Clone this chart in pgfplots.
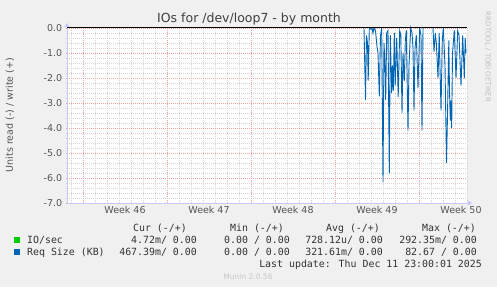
\documentclass[border=0pt]{standalone}
\usepackage{pgfplots}
\pgfplotsset{compat=1.18}
\usepackage{fontspec}
\setmainfont{DejaVu Sans}
\newfontfamily\mono{DejaVu Sans Mono}
\usetikzlibrary{arrows.meta}
\definecolor{bg}{HTML}{F0F0F0}
\definecolor{munblue}{HTML}{0066B3}
\definecolor{mungreen}{HTML}{00CC00}
\definecolor{axblue}{HTML}{C8C8FF}
\definecolor{majgrid}{HTML}{F0A0A0}
\definecolor{mingrid}{HTML}{D4D4D4}
\definecolor{txt}{HTML}{555555}
\pgfplotstableread{
d v
24.75 0
24.875 -2.88
24.958 -0.3
25.042 -0.6
25.1 -2.1
25.192 0
25.333 -0.05
25.417 0
25.5 -0.2
25.583 0
25.708 -0.1
25.833 -0.75
25.917 -1.0
26.025 -2.73
26.125 -0.3
26.225 0
26.333 -6.15
26.417 -0.6
26.5 -1.4
26.558 -2.87
26.642 -0.2
26.75 -0.1
26.858 -5.8
26.942 -0.3
27.058 -2.6
27.125 -1.5
27.192 -2.5
27.275 -0.2
27.35 -2.3
27.475 -0.4
27.6 -2.75
27.725 -0.1
27.817 -0.3
27.917 -3.4
28.0 -1.0
28.108 -2.1
28.192 -0.5
28.275 -0.1
28.417 -4.1
28.5 -1.5
28.642 0
28.75 -0.2
28.833 -0.8
28.917 -3.3
29.0 -0.8
29.108 -0.3
29.25 -2.4
29.392 0
29.5 -0.3
29.583 -4.1
29.667 0
29.9 nan
30.5 0
30.583 -0.95
30.692 -0.2
30.775 -0.6
30.875 -1.6
30.917 -2.0
31.017 -0.2
31.167 -3.3
31.275 -0.5
31.358 0
31.5 -1.5
31.625 -5.4
31.708 -3.5
31.817 -0.5
31.875 -2.5
31.942 -3.7
32.0 -2.9
32.058 -4.0
32.125 -1.0
32.275 -0.1
32.417 -2.0
32.558 -0.1
32.667 -0.3
32.833 -2.3
32.975 -0.3
33.108 -2.0
33.183 -0.4
33.25 -1.0
}\reqsize
\begin{document}
\begin{tikzpicture}[x=1pt,y=1pt]
\fill[bg] (0,0) rectangle (497,287);
\begin{axis}[
  at={(67pt,84pt)}, anchor=south west, scale only axis,
  width=400pt, height=175pt,
  xmin=0, xmax=33.3333, ymin=-7, ymax=0,
  clip=false,
  axis background/.style={fill=white},
  axis x line=bottom, axis y line=left,
  axis line style={axblue, line width=0.6pt},
  x axis line style={-{Triangle[length=4pt,width=5pt]}, shorten >=-5pt},
  y axis line style={-{Triangle[length=4pt,width=5pt]}, shorten >=-5pt},
  xtick={1.3333,8.3333,15.3333,22.3333,29.3333},
  xticklabels={},
  minor xtick={0.3333,1.3333,...,33.3333},
  extra x ticks={4.8333,11.8333,18.8333,25.8333,32.8333},
  extra x tick labels={Week 46,Week 47,Week 48,Week 49,Week 50},
  extra x tick style={grid=none, major tick length=0pt},
  ytick={-7,-6,-5,-4,-3,-2,-1,0},
  yticklabels={-7.0,-6.0,-5.0,-4.0,-3.0,-2.0,-1.0,0.0},
  minor y tick num=4,
  xmajorgrids, xminorgrids, ymajorgrids, yminorgrids,
  major grid style={majgrid, line width=0.5pt, dash pattern=on 1pt off 1pt},
  minor grid style={mingrid, line width=0.5pt, dash pattern=on 1pt off 1pt},
  major tick length=2.5pt, minor tick length=1.5pt,
  tick style={majgrid},
  minor tick style={mingrid},
  tick label style={font=\fontsize{9.5}{10}\selectfont, text=txt},
  /pgf/number format/assume math mode=true,
]
\addplot[munblue, line width=0.9pt, unbounded coords=jump] table[x=d, y=v] {\reqsize};
\addplot[black, line width=1pt] coordinates {(0,0) (33.3333,0)};
\end{axis}
% title and labels
\node[text=black!75, font=\fontsize{12.5}{13}\selectfont] at (249,268) {IOs for /dev/loop7 - by month};
\node[text=txt, rotate=90, font=\fontsize{9.5}{10}\selectfont] at (10,172) {Units read (-) / write (+)};
\node[text=black!25, rotate=-90, font=\fontsize{7}{8}\selectfont] at (488,230) {RRDTOOL / TOBI OETIKER};
% legend
\begin{scope}[every node/.style={inner sep=0pt, text=black!80, font=\mono\fontsize{9.9}{10}\selectfont}]
\node[anchor=base east] at (187,55.5) {Cur (-/+)};
\node[anchor=base east] at (284,55.5) {Min (-/+)};
\node[anchor=base east] at (380,55.5) {Avg (-/+)};
\node[anchor=base east] at (476,55.5) {Max (-/+)};
\fill[mungreen] (14,44) rectangle (20,50);
\node[anchor=base west] at (27,43.5) {IO/sec};
\node[anchor=base east] at (197,43.5) {4.72m/ 0.00};
\node[anchor=base east] at (290,43.5) {0.00 / 0.00};
\node[anchor=base east] at (383,43.5) {728.12u/ 0.00};
\node[anchor=base east] at (477,43.5) {292.35m/ 0.00};
\fill[munblue] (14,32) rectangle (20,38);
\node[anchor=base west] at (27,31.5) {Req Size (KB)};
\node[anchor=base east] at (197,31.5) {467.39m/ 0.00};
\node[anchor=base east] at (290,31.5) {0.00 / 0.00};
\node[anchor=base east] at (383,31.5) {321.61m/ 0.00};
\node[anchor=base east] at (477,31.5) {82.67 / 0.00};
\node[anchor=base east] at (482,19.5) {Last update: Thu Dec 11 23:00:01 2025};
\end{scope}
\node[text=black!22, font=\fontsize{7.5}{8}\selectfont, anchor=base] at (248,8) {Munin 2.0.56};
\pgfresetboundingbox
\useasboundingbox (0,0) rectangle (497,287);
\end{tikzpicture}
\end{document}
